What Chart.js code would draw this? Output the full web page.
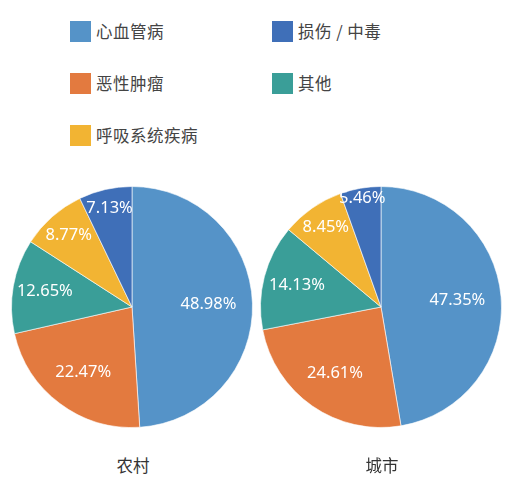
<!DOCTYPE html>
<html>
<head>
<meta charset="utf-8">
<script src="https://cdn.jsdelivr.net/npm/chart.js@4/dist/chart.umd.min.js"></script>
<style>
  body { margin: 0; background: #fff; font-family: "Noto Sans CJK SC", "Noto Sans", sans-serif; }
  #wrap { position: relative; width: 515px; height: 482px; }
  .legend-item { position: absolute; display: flex; align-items: center; font-size: 16.5px; letter-spacing: 0.5px; color: #444; }
  .legend-item span.box { width: 21px; height: 21px; margin-right: 5px; display: inline-block; }
  .pie { position: absolute; width: 250px; height: 250px; }
  .title { position: absolute; width: 120px; text-align: center; font-size: 16.5px; color: #333; }
</style>
</head>
<body>
<div id="wrap">
  <div class="pie" style="left:7px; top:182px;"><canvas id="ruralChart"></canvas></div>
  <div class="pie" style="left:256px; top:182px;"><canvas id="urbanChart"></canvas></div>
  <div class="title" style="left:73px; top:453px;">农村</div>
  <div class="title" style="left:322px; top:453px;">城市</div>
</div>
<script>
// categories in clockwise order from 12 o'clock
const categories = ['心血管病', '恶性肿瘤', '其他', '呼吸系统疾病', '损伤 / 中毒'];
const ruralValues = [48.98, 22.47, 12.65, 8.77, 7.13];
const urbanValues = [47.35, 24.61, 14.13, 8.45, 5.46];
const colors = ['#5593c8', '#e37a3f', '#3a9e98', '#f2b433', '#3f6fb8'];

// legend layout: [category index, left, top]
const legendSlots = [[0, 70, 19], [4, 272, 19], [1, 70, 71], [2, 272, 71], [3, 70, 123]];
const wrap = document.getElementById('wrap');
legendSlots.forEach(([i, x, y]) => {
    const div = document.createElement('div');
    div.className = 'legend-item';
    div.style.left = x + 'px';
    div.style.top = y + 'px';
    div.innerHTML = '<span class="box" style="background:' + colors[i] + '"></span>' + categories[i];
    wrap.appendChild(div);
});

// draws the percentage inside each slice; thin slices push the label outwards
const sliceLabels = {
    id: 'sliceLabels',
    afterDraw(chart) {
        const ctx = chart.ctx;
        const data = chart.data.datasets[0].data;
        const total = data.reduce((a, b) => a + b, 0);
        ctx.save();
        ctx.fillStyle = '#fff';
        ctx.font = '16.5px "Noto Sans", sans-serif';
        ctx.textAlign = 'center';
        ctx.textBaseline = 'middle';
        chart.getDatasetMeta(0).data.forEach((arc, i) => {
            const f = data[i] / total;
            const mid = (arc.startAngle + arc.endAngle) / 2;
            const d = arc.outerRadius * (0.6 + 0.017 / f);
            ctx.fillText(data[i].toFixed(2) + '%', arc.x + Math.cos(mid) * d, arc.y + Math.sin(mid) * d);
        });
        ctx.restore();
    }
};

const pieOptions = {
    responsive: true,
    maintainAspectRatio: false,
    animation: false,
    layout: { padding: 4 },
    plugins: { legend: { display: false }, tooltip: { enabled: false } }
};

function makePie(id, values) {
    new Chart(document.getElementById(id), {
        type: 'pie',
        data: {
            labels: categories,
            datasets: [{ data: values, backgroundColor: colors, borderColor: 'rgba(255,255,255,0.6)', borderWidth: 1 }]
        },
        options: pieOptions,
        plugins: [sliceLabels]
    });
}

makePie('ruralChart', ruralValues);
makePie('urbanChart', urbanValues);
</script>
</body>
</html>
